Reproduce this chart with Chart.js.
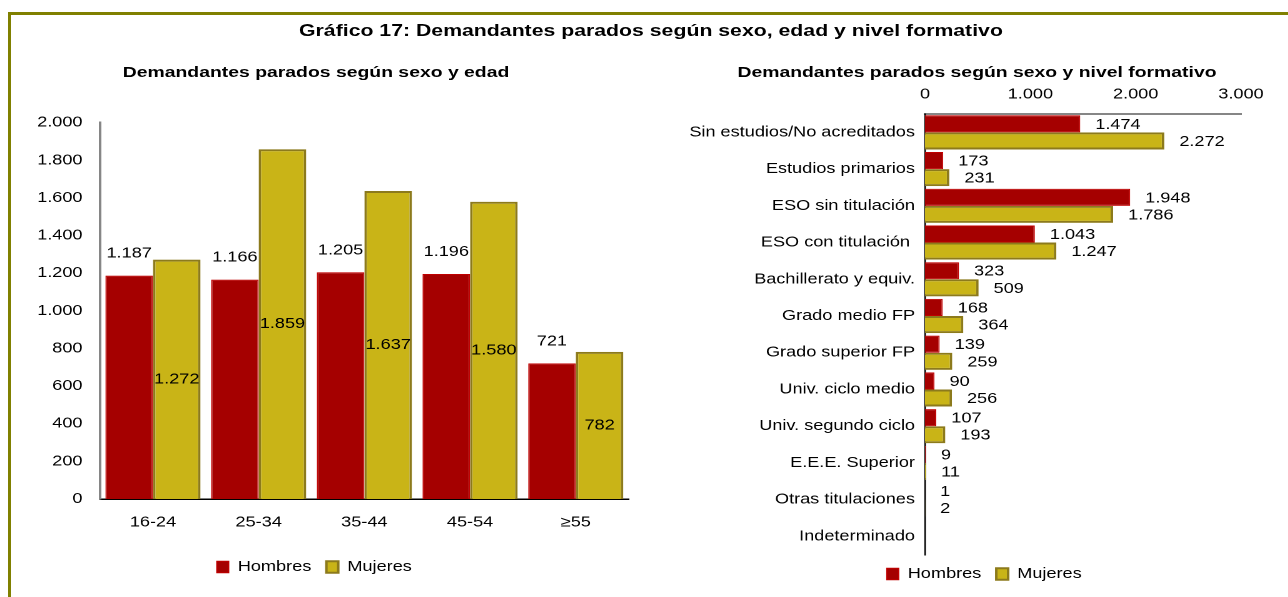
<!DOCTYPE html>
<html lang="es">
<head>
<meta charset="utf-8">
<title>Gráfico 17</title>
<script src="https://cdn.jsdelivr.net/npm/chart.js@4.4.1/dist/chart.umd.min.js"></script>
<style>
  html, body { margin: 0; padding: 0; background: #fff; overflow: hidden; }
  body { width: 1288px; height: 597px; position: relative; font-family: 'Liberation Sans', Arial, sans-serif; }
  .marco { position: absolute; left: 8px; top: 12px; width: 1400px; height: 700px; border: 3px solid #808000; }
  /* el original viene estirado en horizontal, asi que se escala igual */
  .lienzo { position: absolute; left: 0; top: 0; width: 1030.4px; height: 597px; transform: scaleX(1.25); transform-origin: 0 0; }
  .titulo { position: absolute; width: 700px; text-align: center; font-weight: bold; line-height: 20px; color: #000; }
  .caja { position: absolute; }
</style>
</head>
<body>
<div class="marco"></div>
<div class="lienzo">
  <div class="caja" style="left:0; top:100px; width:505.6px; height:497px;"><canvas id="grafico_edad"></canvas></div>
  <div class="caja" style="left:530px; top:70px; width:500.4px; height:527px;"><canvas id="grafico_nivel"></canvas></div>
  <div class="titulo" style="left:170.8px; top:21px; font-size:17px;">Gráfico 17: Demandantes parados según sexo, edad y nivel formativo</div>
  <div class="titulo" style="left:-97.2px; top:62px; font-size:15.5px;">Demandantes parados según sexo y edad</div>
  <div class="titulo" style="left:431.6px; top:62px; font-size:15.5px;">Demandantes parados según sexo y nivel formativo</div>
</div>
<script>
const edades = ['16-24', '25-34', '35-44', '45-54', '≥55'];
const hombres_edad = [1187, 1166, 1205, 1196, 721];
const mujeres_edad = [1272, 1859, 1637, 1580, 782];
const eje_edad = [0, 2000, 200];   // min, max, paso

const niveles = [
    'Sin estudios/No acreditados',
    'Estudios primarios',
    'ESO sin titulación',
    'ESO con titulación ',
    'Bachillerato y equiv.',
    'Grado medio FP',
    'Grado superior FP',
    'Univ. ciclo medio',
    'Univ. segundo ciclo',
    'E.E.E. Superior',
    'Otras titulaciones',
    'Indeterminado'
];
const hombres_nivel = [1474, 173, 1948, 1043, 323, 168, 139, 90, 107, 9, 1, 0];
const mujeres_nivel = [2272, 231, 1786, 1247, 509, 364, 259, 256, 193, 11, 2, 0];
const eje_nivel = [0, 3000, 1000];

const ROJO = '#A50000';
const ROJO_BORDE = '#C00000';
const OLIVA = '#C9B417';
const OLIVA_BORDE = '#8C7A1C';
const FUENTE = "'Liberation Sans', Arial, sans-serif";

Chart.defaults.font.family = FUENTE;
Chart.defaults.font.size = 14.5;
Chart.defaults.color = '#000';

function miles(v) {
    return String(v).replace(/\B(?=(\d{3})+(?!\d))/g, '.');
}

const etiquetas_edad = {
    id: 'etiquetas_edad',
    afterDatasetsDraw(chart) {
        const ctx = chart.ctx;
        ctx.save();
        ctx.font = '14.5px ' + FUENTE;
        ctx.fillStyle = '#000';
        ctx.textAlign = 'center';
        ctx.textBaseline = 'middle';
        chart.getDatasetMeta(0).data.forEach((bar, i) => {
            ctx.fillText(miles(chart.data.datasets[0].data[i]), bar.x, bar.y - 22);
        });
        chart.getDatasetMeta(1).data.forEach((bar, i) => {
            ctx.fillText(miles(chart.data.datasets[1].data[i]), bar.x, (bar.y + bar.base) / 2);
        });
        ctx.restore();
    }
};

const etiquetas_nivel = {
    id: 'etiquetas_nivel',
    afterDatasetsDraw(chart) {
        const ctx = chart.ctx;
        ctx.save();
        ctx.font = '14.5px ' + FUENTE;
        ctx.fillStyle = '#000';
        ctx.textAlign = 'left';
        ctx.textBaseline = 'middle';
        chart.data.datasets.forEach((ds, k) => {
            chart.getDatasetMeta(k).data.forEach((bar, i) => {
                if (!ds.data[i]) return;
                ctx.fillText(miles(ds.data[i]), bar.x + 12, bar.y + 1);
            });
        });
        ctx.restore();
    }
};

// la leyenda de la derecha va algo desplazada respecto al hueco que le da chart.js
const mover_leyenda = {
    id: 'mover_leyenda',
    afterLayout(chart) {
        chart.legend.left += 26;
        chart.legend.right += 26;
    }
};

const leyenda = {
    position: 'bottom',
    labels: { boxWidth: 9.5, boxHeight: 11.5, padding: 12, font: { size: 14.5 }, color: '#000' }
};

new Chart(document.getElementById('grafico_edad'), {
    type: 'bar',
    data: {
        labels: edades,
        datasets: [{
            label: 'Hombres',
            data: hombres_edad,
            backgroundColor: ROJO,
            borderColor: ROJO_BORDE,
            borderWidth: 1
        }, {
            label: 'Mujeres',
            data: mujeres_edad,
            backgroundColor: OLIVA,
            borderColor: OLIVA_BORDE,
            borderWidth: 2
        }]
    },
    options: {
        responsive: true,
        maintainAspectRatio: false,
        animation: false,
        devicePixelRatio: 2,
        categoryPercentage: 0.9,
        barPercentage: 1,
        layout: { padding: { top: 13, right: 3.2, bottom: 12.75, left: 0 } },
        plugins: {
            legend: leyenda,
            tooltip: { enabled: false }
        },
        scales: {
            x: {
                grid: { display: false, drawTicks: false },
                border: { display: true, color: '#000', width: 1.5 },
                ticks: { padding: 15 },
                afterFit: (scale) => { scale.height = 48.75; }
            },
            y: {
                min: eje_edad[0],
                max: eje_edad[1],
                grid: { display: false, drawTicks: false },
                border: { display: true, color: '#868686', width: 2 },
                ticks: { stepSize: eje_edad[2], padding: 14, callback: (v) => miles(v) },
                afterFit: (scale) => { scale.width = 80; }
            }
        }
    },
    plugins: [etiquetas_edad]
});

new Chart(document.getElementById('grafico_nivel'), {
    type: 'bar',
    data: {
        labels: niveles,
        datasets: [{
            label: 'Hombres',
            data: hombres_nivel,
            backgroundColor: ROJO,
            borderColor: ROJO_BORDE,
            borderWidth: 1
        }, {
            label: 'Mujeres',
            data: mujeres_nivel,
            backgroundColor: OLIVA,
            borderColor: OLIVA_BORDE,
            borderWidth: 2
        }]
    },
    options: {
        indexAxis: 'y',
        responsive: true,
        maintainAspectRatio: false,
        animation: false,
        devicePixelRatio: 2,
        categoryPercentage: 0.93,
        barPercentage: 1,
        layout: { padding: { top: 14, right: 37.6, bottom: 5.75, left: 0 } },
        plugins: {
            legend: leyenda,
            tooltip: { enabled: false }
        },
        scales: {
            x: {
                position: 'top',
                min: eje_nivel[0],
                max: eje_nivel[1],
                grid: { display: false, drawTicks: false },
                border: { display: true, color: '#868686', width: 2 },
                ticks: { stepSize: eje_nivel[2], padding: 11, callback: (v) => miles(v) },
                afterFit: (scale) => { scale.height = 30; }
            },
            y: {
                grid: { display: false, drawTicks: false },
                border: { display: true, color: '#000', width: 1.2 },
                ticks: { padding: 8, autoSkip: false },
                afterFit: (scale) => { scale.width = 210; }
            }
        }
    },
    plugins: [etiquetas_nivel, mover_leyenda]
});
</script>
</body>
</html>
